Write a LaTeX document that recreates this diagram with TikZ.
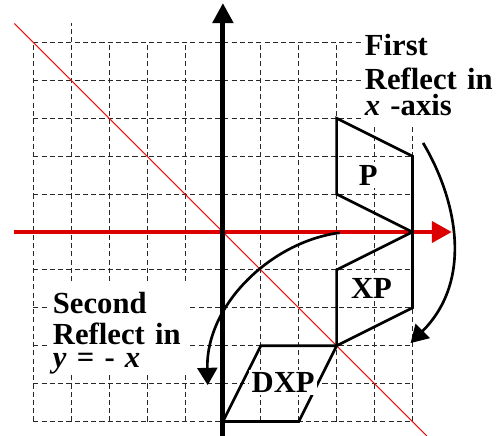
\documentclass[tikz,border=0pt]{standalone}
\usepackage{fontspec}
\setmainfont{Liberation Serif}
\usetikzlibrary{arrows.meta}
\definecolor{axisred}{RGB}{220,0,0}
\definecolor{diagred}{RGB}{230,20,20}
\definecolor{gridgray}{RGB}{40,40,40}
\begin{document}
\begin{tikzpicture}[
  gridline/.style={draw=gridgray, line width=0.75pt, dash pattern=on 3.8pt off 2.4pt},
  figline/.style={draw=black, line width=2pt},
  mask/.style={fill=white},
  lbl/.style={font=\fontsize{23}{23}\selectfont\bfseries, fill=white, inner sep=2pt},
  note/.style={font=\fontsize{23}{22.4}\selectfont\bfseries, inner sep=0pt, anchor=base west,
               text width=4.2cm, align=left},
  bendarrow/.style={draw=black, line width=2pt, -{Triangle[length=13pt,width=15pt]}},
]
\useasboundingbox (-5.88,-5.38) rectangle (7.23,6.12);

% grid
\foreach \i in {-5,...,5} {
  \draw[gridline] (-5,\i) -- (5,\i);
  \draw[gridline] (\i,-5) -- (\i,5);
}
\draw[gridline] (-4,5) -- (-4,5.5);

% white areas behind the notes
\fill[mask] (3.68,2.77) rectangle (7.23,5.4);
\fill[mask] (-4.6,-1.35) rectangle (-0.92,-3.69);

% line y = -x
\draw[diagred, line width=0.8pt] (-5.5,5.5) -- (5.38,-5.38);

% axes
\draw[axisred, line width=3.5pt, -{Triangle[length=15pt,width=15.5pt]}] (-5.5,0) -- (6.04,0);
\draw[black, line width=3.7pt, -{Triangle[length=15pt,width=15pt]}] (0,-5.38) -- (0,6.04);

% shapes
\draw[figline] (3,3) -- (5,2) -- (5,0) -- (3,1) -- cycle;
\draw[figline] (3,-3) -- (5,-2) -- (5,0) -- (3,-1) -- cycle;
\draw[figline] (3,-3) -- (2,-5) -- (0,-5) -- (1,-3) -- cycle;

% curved arrows
\coordinate (a1s) at (5.28,2.35);
\coordinate (a1e) at (4.95,-2.93);
\draw[bendarrow] (a1s) .. controls (6.15,0.89) and (6.63,-1.25) .. (a1e);
\coordinate (a2s) at (3.08,-0.02);
\coordinate (a2e) at (-0.4,-4.04);
\draw[bendarrow] (a2s) .. controls (1.3,-0.25) and (-0.45,-1.9) .. (a2e);

% labels
\node[lbl] (p) at (3.83,1.50) {P};
\node[lbl] (xp) at (3.92,-1.49) {XP};
\node[lbl] (dxp) at (1.59,-3.97) {DXP};

% notes
\node[note] (first) at (3.74,4.65) {First\\[2.6pt]Reflect in\\[-2.5pt]\textit{x} -axis};
\node[note] (second) at (-4.49,-2.14) {Second\\[1.4pt]Reflect in\\[-5.1pt]\textit{y} = - \textit{x}};
\end{tikzpicture}
\end{document}
